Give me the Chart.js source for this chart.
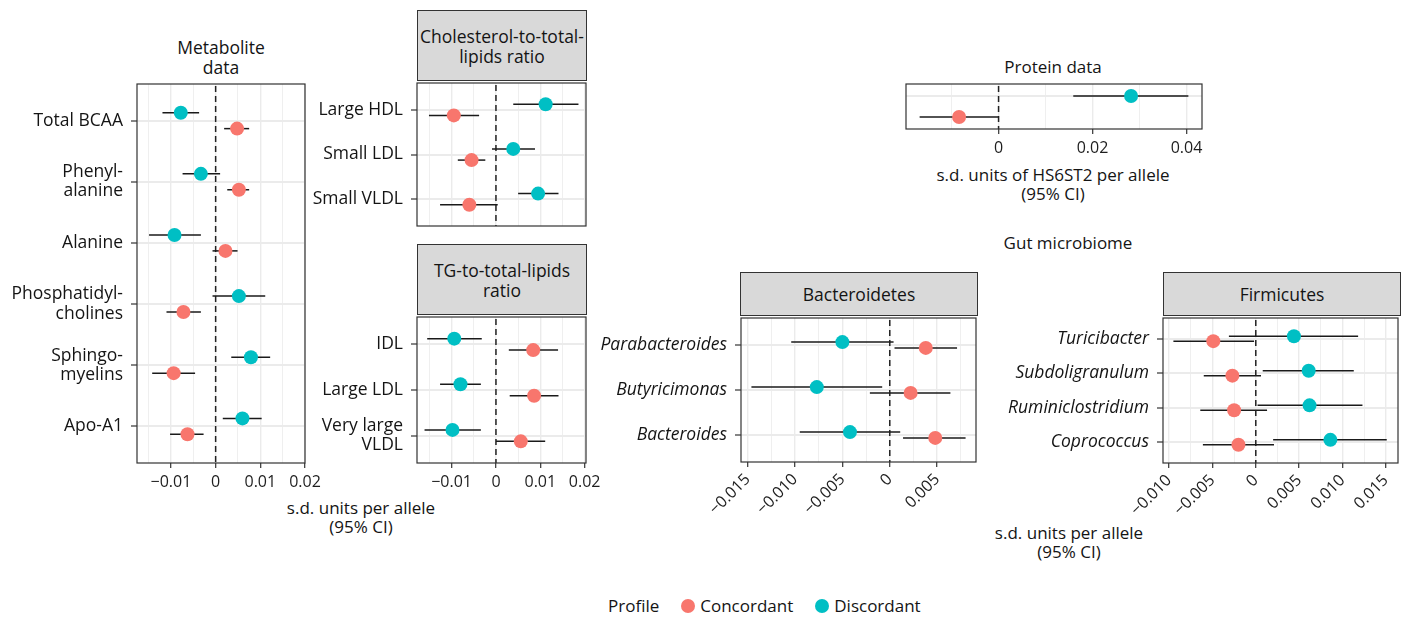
<!DOCTYPE html>
<html>
<head>
<meta charset="utf-8">
<script src="https://cdn.jsdelivr.net/npm/chart.js@4.4.0/dist/chart.umd.min.js"></script>
<style>
  body { margin: 0; background: #fff; width: 1406px; height: 617px; position: relative; overflow: hidden;
         font-family: 'Open Sans', 'Noto Sans', sans-serif; color: #141414; }
  .wrap { position: absolute; }
  .c { position: absolute; font-size: 17px; line-height: 19px; text-align: center; white-space: nowrap; transform: translateX(-50%); }
  .strip { position: absolute; background: #d9d9d9; border: 1px solid #333; box-sizing: border-box;
           display: flex; align-items: center; justify-content: center; text-align: center; font-size: 17.5px; line-height: 20px; white-space: nowrap; }
  .legend { position: absolute; top: 596px; left: 608px; font-size: 17px; line-height: 20px; display: flex; align-items: center; }
  .dot { display: inline-block; width: 14px; height: 14px; border-radius: 50%; margin-right: 5px; }
</style>
</head>
<body>

<div class="c" style="left:221px;top:37px;line-height:20px;font-size:17.5px">Metabolite<br>data</div>
<div class="strip" style="left:417px;top:10px;width:170px;height:71px">Cholesterol-to-total-<br>lipids ratio</div>
<div class="strip" style="left:417px;top:244px;width:170px;height:71px">TG-to-total-lipids<br>ratio</div>
<div class="c" style="left:1053px;top:57px">Protein data</div>
<div class="c" style="left:1053px;top:165px">s.d. units of HS6ST2 per allele<br>(95% CI)</div>
<div class="c" style="left:1068px;top:233px">Gut microbiome</div>
<div class="strip" style="left:740px;top:272px;width:238px;height:44px">Bacteroidetes</div>
<div class="strip" style="left:1163px;top:272px;width:238px;height:44px">Firmicutes</div>
<div class="c" style="left:361px;top:498px">s.d. units per allele<br>(95% CI)</div>
<div class="c" style="left:1069px;top:523px">s.d. units per allele<br>(95% CI)</div>
<div class="legend">
  <span style="margin-right:22px">Profile</span>
  <span class="dot" style="background:#F8766D"></span><span style="margin-right:22px">Concordant</span>
  <span class="dot" style="background:#00BFC4"></span><span>Discordant</span>
</div>

<script>
const CONC = '#F8766D';
const DISC = '#00BFC4';

// rows are [estimate, lower CI, upper CI]
const metaLabels = [['Total BCAA'], ['Phenyl-', 'alanine'], ['Alanine'], ['Phosphatidyl-', 'cholines'], ['Sphingo-', 'myelins'], ['Apo-A1']];
const metaConc = [[0.0048, 0.0019, 0.0075], [0.0052, 0.0026, 0.0075], [0.0022, -0.0007, 0.0049], [-0.0072, -0.011, -0.0033], [-0.0094, -0.0142, -0.0046], [-0.0063, -0.0102, -0.0027]];
const metaDisc = [[-0.0078, -0.0119, -0.0037], [-0.0033, -0.0074, 0.001], [-0.0092, -0.0149, -0.0033], [0.0052, -0.0007, 0.0111], [0.0079, 0.0035, 0.0122], [0.006, 0.0016, 0.0103]];

const cholLabels = [['Large HDL'], ['Small LDL'], ['Small VLDL']];
const cholConc = [[-0.0095, -0.0151, -0.0038], [-0.0055, -0.0086, -0.0024], [-0.006, -0.0126, 0.0004]];
const cholDisc = [[0.0112, 0.0039, 0.0186], [0.0039, -0.0009, 0.0088], [0.0095, 0.005, 0.0141]];

const tgLabels = [['IDL'], ['Large LDL'], ['Very large', 'VLDL']];
const tgConc = [[0.0084, 0.0029, 0.014], [0.0086, 0.0031, 0.0141], [0.0056, 0, 0.0111]];
const tgDisc = [[-0.0094, -0.0155, -0.0032], [-0.008, -0.0126, -0.0034], [-0.0098, -0.0161, -0.0034]];

const protLabels = [''];
const protConc = [[-0.0084, -0.0168, 0]];
const protDisc = [[0.0282, 0.0159, 0.0404]];

const bactLabels = ['Parabacteroides', 'Butyricimonas', 'Bacteroides'];
const bactConc = [[0.0038, 0.0005, 0.0071], [0.0022, -0.0021, 0.0064], [0.0048, 0.0014, 0.008]];
const bactDisc = [[-0.005, -0.0104, 0.0004], [-0.0077, -0.0146, -0.0008], [-0.0042, -0.0095, 0.0011]];

const firmLabels = ['Turicibacter', 'Subdoligranulum', 'Ruminiclostridium', 'Coprococcus'];
const firmConc = [[-0.0049, -0.0095, -0.0002], [-0.0027, -0.006, 0.0006], [-0.0025, -0.0064, 0.0013], [-0.002, -0.0061, 0.0021]];
const firmDisc = [[0.0044, -0.0031, 0.0118], [0.0061, 0.0008, 0.0113], [0.0062, 0.0002, 0.0123], [0.0086, 0.002, 0.0151]];

// x axis ticks (labelled) and grid lines
const lipTicks = [-0.01, 0, 0.01, 0.02];
const lipTickLabels = ['\u22120.01', '0', '0.01', '0.02'];
const lipGrid = [-0.015, -0.01, -0.005, 0, 0.005, 0.01, 0.015, 0.02];
const protTicks = [0, 0.02, 0.04];
const protTickLabels = ['0', '0.02', '0.04'];
const protGrid = [-0.01, 0, 0.01, 0.02, 0.03, 0.04];
const bactTicks = [-0.015, -0.01, -0.005, 0, 0.005];
const bactTickLabels = ['\u22120.015', '\u22120.010', '\u22120.005', '0', '0.005'];
const bactGrid = [-0.015, -0.0125, -0.01, -0.0075, -0.005, -0.0025, 0, 0.0025, 0.005, 0.0075];
const firmTicks = [-0.01, -0.005, 0, 0.005, 0.01, 0.015];
const firmTickLabels = ['\u22120.010', '\u22120.005', '0', '0.005', '0.010', '0.015'];
const firmGrid = [-0.01, -0.0075, -0.005, -0.0025, 0, 0.0025, 0.005, 0.0075, 0.01, 0.0125, 0.015];

Chart.defaults.font.family = "'Open Sans', 'Noto Sans', sans-serif";
Chart.defaults.color = '#141414';

const same = (a, b) => Math.abs(a - b) < 1e-9;

const panelPlugin = {
  id: 'panel',
  beforeDatasetsDraw(chart) {
    const { ctx, chartArea: a, scales } = chart;
    const x0 = scales.x.getPixelForValue(0);
    ctx.save();
    ctx.strokeStyle = '#222';
    ctx.lineWidth = 1.5;
    ctx.setLineDash([6, 4]);
    ctx.beginPath();
    ctx.moveTo(x0, a.top + 2);
    ctx.lineTo(x0, a.bottom);
    ctx.stroke();
    ctx.restore();
  },
  afterDraw(chart) {
    const { ctx, chartArea: a } = chart;
    ctx.save();
    ctx.strokeStyle = '#333';
    ctx.lineWidth = 1.2;
    ctx.strokeRect(a.left, a.top, a.right - a.left, a.bottom - a.top);
    ctx.restore();
  }
};

const noPad = s => { s.paddingTop = 0; s.paddingBottom = 0; s.paddingLeft = 0; s.paddingRight = 0; };

function panel(box, o) {
  const padL = o.padL, padT = 4, padR = o.padR || 24, padB = o.padB;
  const W = padL + (box[2] - box[0]) + padR;
  const H = padT + (box[3] - box[1]) + padB;
  const div = document.createElement('div');
  div.className = 'wrap';
  Object.assign(div.style, { left: (box[0] - padL) + 'px', top: (box[1] - padT) + 'px', width: W + 'px', height: H + 'px' });
  const cv = document.createElement('canvas');
  div.appendChild(cv);
  document.body.appendChild(div);

  const n = o.labels.length;
  const datasets = [];
  const addSeries = (rows, color, sign) => {
    const ys = rows.map((r, i) => i + 1 + sign * o.off);
    datasets.push({ data: rows.map((r, i) => ({ x: r[0], y: ys[i] })), backgroundColor: color,
      pointRadius: 7, pointHoverRadius: 7, borderWidth: 0, order: 0, clip: false });
    rows.forEach((r, i) => datasets.push({ data: [{ x: r[1], y: ys[i] }, { x: r[2], y: ys[i] }], showLine: true,
      borderColor: '#1a1a1a', borderWidth: 1.5, pointRadius: 0, order: 1, clip: false }));
  };
  addSeries(o.disc, DISC, -1);
  addSeries(o.conc, CONC, 1);

  const yTicks = o.rowGrid
    ? o.labels.flatMap((l, i) => [i + 1 - o.off, i + 1 + o.off])
    : o.labels.map((l, i) => i + 1);
  const isMajor = v => o.ticks.some(t => same(t, v));

  new Chart(cv, {
    type: 'scatter',
    data: { datasets },
    options: {
      responsive: true,
      maintainAspectRatio: false,
      animation: false,
      layout: { padding: { top: padT, right: padR, left: 0, bottom: 0 } },
      plugins: { legend: { display: false }, tooltip: { enabled: false } },
      scales: {
        x: {
          type: 'linear', min: o.xmin, max: o.xmax,
          afterBuildTicks: s => { s.ticks = o.grid.map(v => ({ value: v })); },
          afterFit: s => { s.height = padB; noPad(s); },
          border: { display: false },
          grid: {
            color: '#EBEBEB',
            lineWidth: c => (c.tick && isMajor(c.tick.value)) ? 1.4 : 0.8,
            drawTicks: o.showX,
            tickLength: 5,
            tickWidth: 1.2,
            tickColor: c => (c.tick && isMajor(c.tick.value)) ? '#333' : 'rgba(0,0,0,0)'
          },
          ticks: {
            display: o.showX,
            autoSkip: false,
            maxRotation: o.rot || 0,
            minRotation: o.rot || 0,
            padding: o.rot ? 3 : 5,
            font: { size: 16 },
            color: '#1e1e1e',
            callback: v => {
              const k = o.ticks.findIndex(t => same(t, v));
              return k < 0 ? '' : o.tickLabels[k];
            }
          }
        },
        y: {
          type: 'linear', min: o.ymin || 0.4, max: o.ymax || n + 0.6, reverse: true,
          afterBuildTicks: s => { s.ticks = yTicks.map(v => ({ value: v })); },
          afterFit: s => { s.width = padL; noPad(s); },
          border: { display: false },
          grid: { color: '#EBEBEB', lineWidth: 2, drawTicks: !o.rowGrid, tickLength: 6, tickWidth: 1.2, tickColor: '#333' },
          ticks: {
            display: !o.rowGrid,
            padding: 8,
            font: { size: 17.5, lineHeight: 1.1, style: o.italic ? 'italic' : 'normal' },
            color: '#141414',
            callback: (v, i) => o.labels[i]
          }
        }
      }
    },
    plugins: [panelPlugin]
  });
}

panel([137, 81, 305, 463], { labels: metaLabels, conc: metaConc, disc: metaDisc, off: 0.13,
  xmin: -0.0176, xmax: 0.02, ticks: lipTicks, tickLabels: lipTickLabels, grid: lipGrid, showX: true, padL: 137, padB: 36 });
panel([417, 80, 586, 229], { labels: cholLabels, conc: cholConc, disc: cholDisc, off: 0.125,
  xmin: -0.0178, xmax: 0.0203, ticks: lipTicks, tickLabels: lipTickLabels, grid: lipGrid, showX: false, padL: 115, padB: 4 });
panel([417, 314, 586, 463], { labels: tgLabels, conc: tgConc, disc: tgDisc, off: 0.125,
  xmin: -0.0178, xmax: 0.0203, ticks: lipTicks, tickLabels: lipTickLabels, grid: lipGrid, showX: true, padL: 115, padB: 36 });
panel([906, 81, 1202, 129], { labels: protLabels, conc: protConc, disc: protDisc, off: 0.233, rowGrid: true, ymin: 0.5, ymax: 1.5,
  xmin: -0.0197, xmax: 0.0433, ticks: protTicks, tickLabels: protTickLabels, grid: protGrid, showX: true, padL: 10, padB: 34 });
panel([741, 315, 977, 462], { labels: bactLabels, conc: bactConc, disc: bactDisc, off: 0.065, italic: true,
  xmin: -0.0157, xmax: 0.0091, ticks: bactTicks, tickLabels: bactTickLabels, grid: bactGrid, showX: true, rot: 45, padL: 155, padB: 64, padR: 6 });
panel([1163, 315, 1400, 463], { labels: firmLabels, conc: firmConc, disc: firmDisc, off: 0.07, italic: true,
  xmin: -0.0107, xmax: 0.0164, ticks: firmTicks, tickLabels: firmTickLabels, grid: firmGrid, showX: true, rot: 45, padL: 170, padB: 64, padR: 5 });
</script>
</body>
</html>
